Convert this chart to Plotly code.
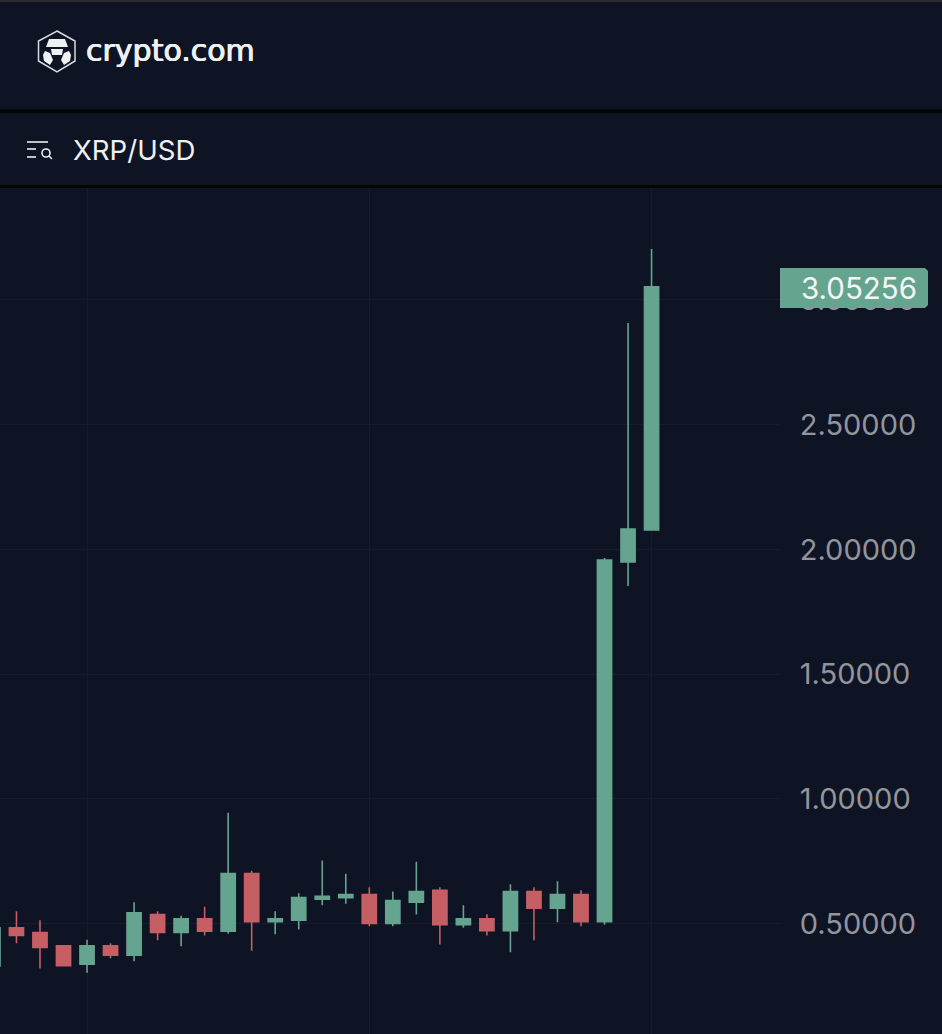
import plotly.graph_objects as go

periods = list(range(-1, 28))
opens = [.33, .483, .464, .411, .337, .411, .373, .536, .464, .519, .469, .70, .507, .513, .597, .603,
         .616, .50, .585, .633, .495, .519, .471, .628, .561, .616, .507, 1.95, 2.078]
highs = [.483, .549, .513, .411, .435, .421, .585, .549, .531, .567, .944, .712, .549, .621, .753, .70,
         .645, .628, .748, .645, .573, .537, .657, .645, .669, .633, 1.965, 2.908, 3.204]
lows = [.327, .421, .32, .331, .303, .361, .349, .433, .409, .452, .459, .391, .457, .476, .573, .579,
        .489, .489, .536, .416, .483, .452, .385, .433, .505, .489, .495, 1.853, 2.078]
closes = [.483, .452, .404, .331, .411, .373, .543, .464, .519, .469, .70, .507, .519, .604, .609, .616,
          .50, .592, .628, .495, .519, .471, .628, .561, .616, .507, 1.957, 2.082, 3.05256]
price_ticks = [0.5, 1.0, 1.5, 2.0, 2.5, 3.0]
price_labels = ["0.50000", "1.00000", "1.50000", "2.00000", "2.50000", "3.00000"]
grid_periods = [3, 15, 27]
last_price_label = "3.05256"
pair_label = "XRP/USD"
brand_label = "crypto.com"

W, H = 942, 1034
L, R, T, B = 0, 780, 188, 1034
BG = "#0e1424"
SEP = "#040507"
GREEN = "#65a48f"
RED = "#c65f63"
GRID = "#161c2d"
TICK = "#93959d"
WHITE = "#eef0f2"


def px(x):
    return (x - L) / (R - L)


def py(y):
    return (B - y) / (B - T)


def path(points, close=True):
    s = "M" + " L".join(f"{px(x):.5f},{py(y):.5f}" for x, y in points)
    return s + (" Z" if close else "")


def rect(x0, y0, x1, y1, color):
    return dict(type="rect", xref="paper", yref="paper", x0=px(x0), x1=px(x1), y0=py(y0), y1=py(y1),
                fillcolor=color, line_width=0, layer="above")


def poly(points, fill=None, line=None, width=0, close=True):
    return dict(type="path", xref="paper", yref="paper", path=path(points, close),
                fillcolor=fill if fill else "rgba(0,0,0,0)",
                line=dict(color=line if line else "rgba(0,0,0,0)", width=width), layer="above")


fig = go.Figure(go.Candlestick(
    x=periods, open=opens, high=highs, low=lows, close=closes,
    increasing=dict(line=dict(color=GREEN, width=1.6), fillcolor=GREEN),
    decreasing=dict(line=dict(color=RED, width=1.6), fillcolor=RED),
    whiskerwidth=0, showlegend=False,
))

shapes = [
    rect(0, 0, W, 2, "#2a2b2d"),
    rect(0, 109, W, 113, SEP),
    rect(0, 185, W, 188, SEP),
    # last price tag, above the covered axis label
    dict(type="path", xref="paper", yref="paper", fillcolor=GREEN, line_width=0, layer="above",
         path=path([(780, 268), (925, 268), (928, 271), (928, 305), (925, 308), (780, 308)])),
    # logo
    poly([(57, 31), (75, 41), (75, 61), (57, 72), (38.5, 61), (38.5, 41)], line="#d8dadd", width=1.5),
    poly([(49, 39), (65, 39), (68, 47), (46, 47)], fill=WHITE),
    poly([(51, 49), (63, 49), (62, 55), (52, 55)], fill=WHITE),
    poly([(45, 51), (50, 53), (53, 60), (50, 65), (44, 61), (43, 55)], fill=WHITE),
    poly([(69, 51), (64, 53), (61, 60), (64, 65), (70, 61), (71, 55)], fill=WHITE),
    # search-list icon
    poly([(27, 142), (48, 142)], line=WHITE, width=1.6, close=False),
    poly([(27, 149), (36, 149)], line=WHITE, width=1.6, close=False),
    poly([(27, 157), (36, 157)], line=WHITE, width=1.6, close=False),
    dict(type="circle", xref="paper", yref="paper", x0=px(42), x1=px(50), y0=py(149), y1=py(157),
         line=dict(color=WHITE, width=1.6), layer="above"),
    poly([(49, 156), (52, 159)], line=WHITE, width=1.6, close=False),
]

annotations = [
    dict(xref="paper", yref="paper", x=px(84), y=py(50), text=brand_label, showarrow=False, xanchor="left",
         yanchor="middle", font=dict(family="DejaVu Sans", size=30, color=WHITE,
                                     shadow="0.5px 0 0 #eef0f2, -0.5px 0 0 #eef0f2")),
    dict(xref="paper", yref="paper", x=px(71), y=py(150), text=pair_label, showarrow=False, xanchor="left",
         yanchor="middle", font=dict(family="Inter", size=27.6, color=WHITE)),
    dict(xref="paper", yref="paper", x=px(919), y=py(288), text=last_price_label, showarrow=False, xanchor="right",
         yanchor="middle", font=dict(family="Inter", size=29.5, color="#f4f7f6")),
]

fig.update_layout(
    width=W, height=H, margin=dict(l=L, r=W - R, t=T, b=H - B, pad=0),
    paper_bgcolor=BG, plot_bgcolor=BG, boxgap=0.14,
    shapes=shapes, annotations=annotations, showlegend=False,
    xaxis=dict(range=[-0.70, 32.46], rangeslider=dict(visible=False), tickvals=grid_periods,
               showticklabels=False, ticks="", gridcolor=GRID, gridwidth=1, zeroline=False, showline=False),
    yaxis=dict(range=[0.057, 3.449], side="right", tickvals=price_ticks, ticktext=price_labels,
               gridcolor=GRID, gridwidth=1, zeroline=False, showline=False, ticks="outside", ticklen=13,
               tickcolor="rgba(0,0,0,0)", tickfont=dict(family="Inter", size=29, color=TICK)),
)

fig.write_html("out.html", config=dict(displayModeBar=False),
               post_script="document.body.style.margin='0';document.body.style.background='" + BG + "';")
